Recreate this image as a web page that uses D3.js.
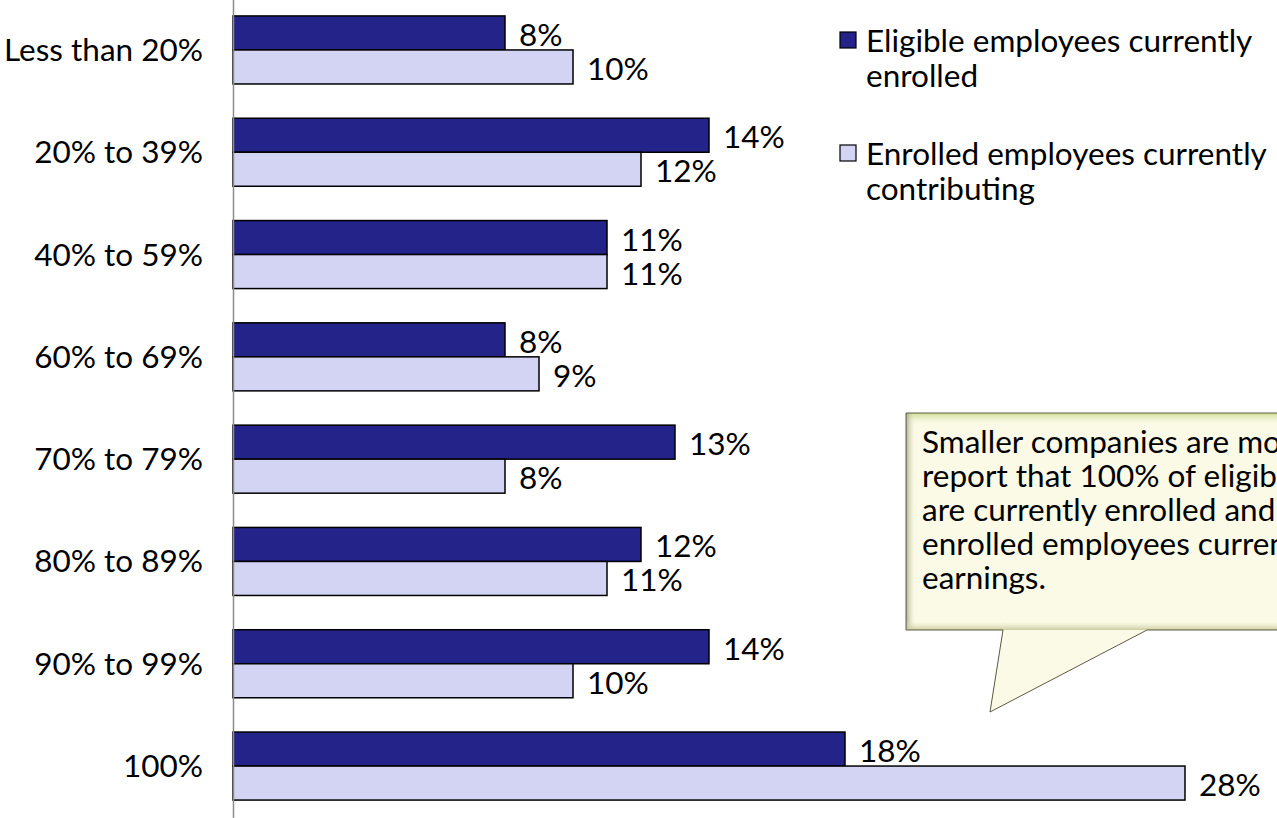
<!DOCTYPE html>
<html>
<head>
<meta charset="utf-8">
<script src="https://cdn.jsdelivr.net/npm/d3@7"></script>
<style>
  html, body { margin: 0; padding: 0; background: #fff; overflow: hidden; }
  svg { display: block; }
</style>
</head>
<body>
<svg id="chart" width="1277" height="818"></svg>
<script>
// Share of employees by participation band
const categories = ["Less than 20%", "20% to 39%", "40% to 59%", "60% to 69%",
                    "70% to 79%", "80% to 89%", "90% to 99%", "100%"];
const enrolled     = [8, 14, 11, 8, 13, 12, 14, 18];   // eligible employees currently enrolled
const contributing = [10, 12, 11, 9, 8, 11, 10, 28];   // enrolled employees currently contributing
const seriesNames  = ["Eligible employees currently enrolled",
                      "Enrolled employees currently contributing"];
const legendLines  = [["Eligible employees currently", "enrolled"],
                      ["Enrolled employees currently", "contributing"]];
const noteLines    = ["Smaller companies are more",
                      "report that 100% of eligible",
                      "are currently enrolled and that",
                      "enrolled employees currently",
                      "earnings."];

const FONT = "Lato, 'Open Sans', sans-serif";
const FONT_SIZE = "31.5px";
const colors = ["#23238A", "#D3D3F3"];

const svg = d3.select("#chart");
const defs = svg.append("defs");

const x = d3.scaleLinear().domain([0, 30]).range([233, 233 + 34 * 30]);
const y = d3.scaleBand().domain(categories).range([-1.2, 817.2])
  .paddingInner(0.335).paddingOuter(0.1675);
const ySub = d3.scaleBand().domain([0, 1]).range([0, y.bandwidth()]);

const rows = categories.map((c, i) => ({ cat: c, vals: [enrolled[i], contributing[i]] }));

// bars
const groups = svg.append("g").selectAll("g").data(rows).join("g")
  .attr("transform", d => `translate(0,${y(d.cat)})`);

groups.selectAll("rect").data(d => d.vals.map((v, k) => ({ v, k }))).join("rect")
  .attr("x", x(0))
  .attr("y", d => ySub(d.k))
  .attr("width", d => x(d.v) - x(0))
  .attr("height", ySub.bandwidth())
  .attr("fill", d => colors[d.k])
  .attr("stroke", "#000")
  .attr("stroke-width", 1.5);

groups.selectAll("text").data(d => d.vals.map((v, k) => ({ v, k }))).join("text")
  .attr("x", d => x(d.v) + 14)
  .attr("y", d => ySub(d.k) + ySub.bandwidth() / 2 + 1)
  .attr("dominant-baseline", "central")
  .style("font-family", FONT)
  .style("font-size", FONT_SIZE)
  .attr("fill", "#000")
  .text(d => d.v + "%");

// category axis
const axis = svg.append("g").attr("transform", `translate(${x(0)},0)`)
  .call(d3.axisLeft(y).tickSize(0).tickSizeOuter(0).tickPadding(30));
axis.select(".domain").attr("stroke", "#8c8c8c").attr("stroke-width", 1.5);
axis.selectAll(".tick text")
  .style("font-family", FONT).style("font-size", FONT_SIZE).attr("fill", "#000")
  .attr("dy", "0.35em");

// legend
const legend = svg.append("g");
const legendTop = [32, 145];
seriesNames.forEach((name, k) => {
  const g = legend.append("g").attr("transform", `translate(840,${legendTop[k]})`);
  g.append("rect").attr("width", 16).attr("height", 16)
    .attr("fill", colors[k]).attr("stroke", "#000").attr("stroke-width", 1.2);
  g.append("text").attr("x", 26).attr("y", 9)
    .style("font-family", FONT).style("font-size", FONT_SIZE)
    .selectAll("tspan").data(legendLines[k]).join("tspan")
    .attr("x", 26).attr("dy", (d, i) => i === 0 ? "0.35em" : "35px")
    .text(d => d);
});

// callout note with a soft bevel
const bx0 = 906, by0 = 413, bx1 = 1300, by1 = 630;
const notePath = `M${bx0},${by0} L${bx1},${by0} L${bx1},${by1} L1147,${by1} L990,712 L1003,${by1} L${bx0},${by1} Z`;

defs.append("clipPath").attr("id", "noteClip").append("path").attr("d", notePath);

function grad(id, x1, y1, x2, y2, stops) {
  const g = defs.append("linearGradient").attr("id", id)
    .attr("x1", x1).attr("y1", y1).attr("x2", x2).attr("y2", y2);
  stops.forEach(s => g.append("stop").attr("offset", s[0])
    .attr("stop-color", s[1]).attr("stop-opacity", s[2]));
}
grad("bevelTop", 0, 0, 0, 1, [[0, "#c9d88a", 0.9], [1, "#f4f6d8", 0]]);
grad("bevelLeft", 0, 0, 1, 0, [[0, "#9a9a80", 0.8], [1, "#e8e8cc", 0]]);
grad("bevelBottom", 0, 0, 0, 1, [[0, "#e0e0b8", 0], [1, "#c6c69a", 0.9]]);
grad("bevelTip", 0, 0, 1, 0, [[0, "#8a8a70", 0.8], [1, "#e8e8cc", 0]]);

const note = svg.append("g");
note.append("path").attr("d", notePath).attr("fill", "#fafae6");
const bevel = note.append("g").attr("clip-path", "url(#noteClip)");
bevel.append("rect").attr("x", bx0).attr("y", by0).attr("width", bx1 - bx0).attr("height", 12)
  .attr("fill", "url(#bevelTop)");
bevel.append("rect").attr("x", bx0).attr("y", by0).attr("width", 9).attr("height", by1 - by0)
  .attr("fill", "url(#bevelLeft)");
bevel.append("rect").attr("x", bx0).attr("y", by1 - 8).attr("width", bx1 - bx0).attr("height", 8)
  .attr("fill", "url(#bevelBottom)");
bevel.append("path").attr("d", `M1003,${by1 - 8} L990,712 L1005,${by1 - 8} Z`)
  .attr("fill", "url(#bevelTip)");
note.append("path").attr("d", notePath)
  .attr("fill", "none").attr("stroke", "#5c5c44").attr("stroke-width", 1);
note.append("text")
  .style("font-family", FONT).style("font-size", FONT_SIZE).attr("fill", "#000")
  .selectAll("tspan").data(noteLines).join("tspan")
  .attr("x", 922).attr("y", (d, i) => 442 + i * 34).attr("dy", "0.35em")
  .text(d => d);
</script>
</body>
</html>
